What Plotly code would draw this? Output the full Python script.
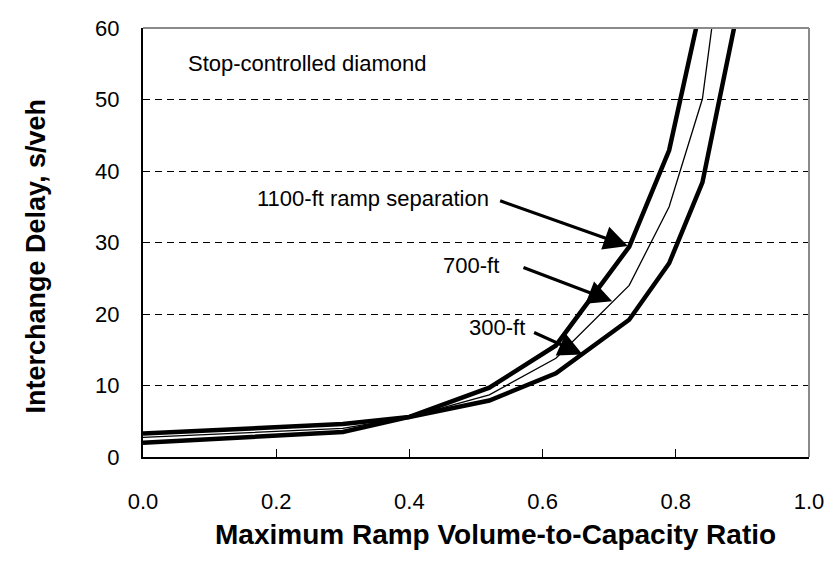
import plotly.graph_objects as go

# Data
vc_ratio = [0.0, 0.3, 0.4, 0.52, 0.62, 0.73, 0.79, 0.84]
delay_1100ft = [2.0, 3.5, 5.6, 9.7, 15.6, 29.4, 42.9, 64.0]
delay_700ft = [2.75, 4.0, 5.6, 8.7, 13.8, 24.0, 35.0, 50.1]
delay_300ft = [3.3, 4.6, 5.6, 7.9, 11.7, 19.2, 27.1, 38.4]
# points beyond the visible top of the axis
vc_ext_700 = [0.87]
delay_ext_700 = [71.3]
vc_ext_300 = [0.90]
delay_ext_300 = [65.7]

x_ticks = [0.0, 0.2, 0.4, 0.6, 0.8, 1.0]
x_tick_labels = ["0.0", "0.2", "0.4", "0.6", "0.8", "1.0"]
y_ticks = [0, 10, 20, 30, 40, 50, 60]

FONT = "Liberation Sans, Arial, sans-serif"
TXT = 22

fig = go.Figure()
fig.add_trace(go.Scatter(x=vc_ratio + vc_ext_300, y=delay_300ft + delay_ext_300,
                         mode="lines", line=dict(color="black", width=4.5), name="300-ft"))
fig.add_trace(go.Scatter(x=vc_ratio + vc_ext_700, y=delay_700ft + delay_ext_700,
                         mode="lines", line=dict(color="black", width=1.3), name="700-ft"))
fig.add_trace(go.Scatter(x=vc_ratio, y=delay_1100ft,
                         mode="lines", line=dict(color="black", width=4.5), name="1100-ft"))

# Text labels
fig.add_annotation(x=0.065, y=55.1, xref="x", yref="y", text="Stop-controlled diamond",
                   showarrow=False, xanchor="left", yanchor="middle",
                   font=dict(family=FONT, size=TXT, color="black"))
fig.add_annotation(x=0.522, y=36.2, xref="x", yref="y", text="1100-ft ramp separation",
                   showarrow=False, xanchor="right", yanchor="middle",
                   font=dict(family=FONT, size=TXT, color="black"))
fig.add_annotation(x=0.538, y=26.8, xref="x", yref="y", text="700-ft",
                   showarrow=False, xanchor="right", yanchor="middle",
                   font=dict(family=FONT, size=TXT, color="black"))
fig.add_annotation(x=0.576, y=18.1, xref="x", yref="y", text="300-ft",
                   showarrow=False, xanchor="right", yanchor="middle",
                   font=dict(family=FONT, size=TXT, color="black"))

# Arrows
arrows = [((0.534, 35.9), (0.728, 29.5)),
          ((0.569, 26.6), (0.7045, 21.8)),
          ((0.585, 17.5), (0.66, 14.35))]
for (tx, ty), (hx, hy) in arrows:
    fig.add_annotation(x=hx, y=hy, ax=tx, ay=ty, xref="x", yref="y", axref="x", ayref="y",
                       text="", showarrow=True, arrowhead=2, arrowsize=1.5,
                       arrowwidth=3.2, arrowcolor="black", standoff=0, startstandoff=0)

# Axis titles
fig.add_annotation(x=0.53, y=-0.18, xref="paper", yref="paper",
                   text="<b>Maximum Ramp Volume-to-Capacity Ratio</b>", showarrow=False,
                   xanchor="center", yanchor="middle",
                   font=dict(family=FONT, size=28, color="black"))
fig.add_annotation(x=-0.161, y=0.469, xref="paper", yref="paper",
                   text="<b>Interchange Delay, s/veh</b>", showarrow=False, textangle=-90,
                   xanchor="center", yanchor="middle",
                   font=dict(family=FONT, size=27, color="black"))

# gray frame on top and right
fig.add_shape(type="line", xref="paper", yref="paper", x0=0, x1=1, y0=1, y1=1,
              line=dict(color="#8a8a8a", width=2), layer="above")
fig.add_shape(type="line", xref="paper", yref="paper", x0=1, x1=1, y0=0, y1=1,
              line=dict(color="#8a8a8a", width=2), layer="above")

# The page body has an 8px margin, so the figure is sized to fit the window
fig.update_layout(
    width=824, height=553,
    margin=dict(l=135, r=15, t=8, b=104),
    paper_bgcolor="white", plot_bgcolor="white",
    showlegend=False,
    font=dict(family=FONT, color="black"),
    xaxis=dict(range=[0, 1], tickvals=x_ticks, ticktext=x_tick_labels,
               ticks="inside", ticklen=8, tickwidth=1, tickcolor="black",
               showline=True, linecolor="black", linewidth=2, showgrid=False,
               zeroline=False, tickfont=dict(size=TXT, family=FONT, color="black"),
               ticklabelstandoff=24, ticklabeloverflow="allow"),
    yaxis=dict(range=[0, 60], tickvals=y_ticks, ticks="",
               showline=True, linecolor="black", linewidth=2,
               showgrid=True, gridcolor="black", gridwidth=1, griddash="7px,5px",
               zeroline=False, tickfont=dict(size=TXT, family=FONT, color="black"),
               ticklabelstandoff=17, ticklabeloverflow="allow"),
)

fig.write_html("out.html")
